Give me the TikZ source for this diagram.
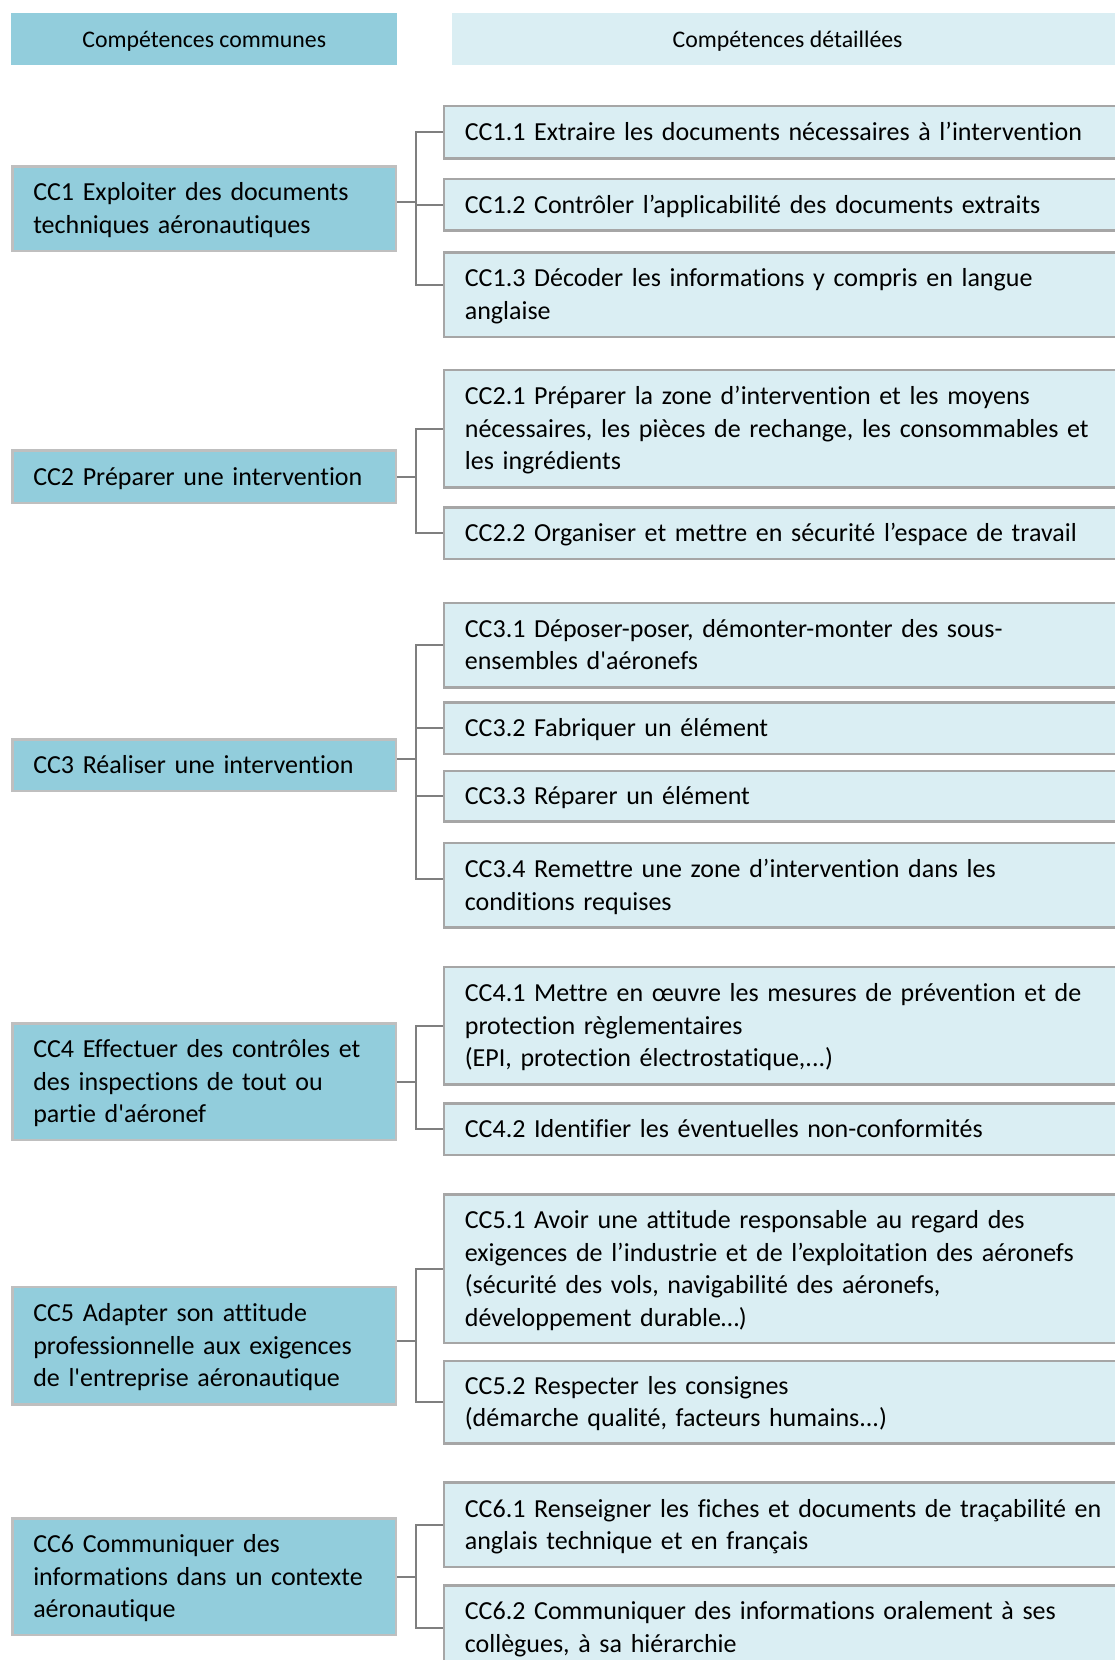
\documentclass[tikz,border=0pt]{standalone}
\usepackage{fontspec}
\setmainfont{Carlito}[Ligatures={TeX,NoCommon}]
\usepackage{xcolor}
\usetikzlibrary{positioning}

\definecolor{aquaDark}{HTML}{92CDDC}
\definecolor{aquaLight}{HTML}{DAEEF3}
\definecolor{edgeLight}{HTML}{BFBFBF}
\definecolor{edgeMid}{HTML}{A6A6A6}
\definecolor{linkGray}{HTML}{7F7F7F}
\newcommand{\cellfont}{\fontsize{26}{32.5}\selectfont}
\newcommand{\headfont}{\fontsize{23.8}{29}\selectfont}

\begin{document}
\begin{tikzpicture}[x=1pt, y=-1pt,
    head/.style={anchor=north west, inner sep=0pt, minimum height=51.6pt, text depth=0pt, font=\headfont},
    cell/.style={line width=2.5pt, anchor=north west, align=left, inner xsep=21pt, inner ysep=0pt,
        font=\cellfont, execute at begin node={\rule{0pt}{25pt}},
        execute at end node={\rule[-8pt]{0pt}{8pt}}},
    comp/.style={cell, draw=edgeLight, fill=aquaDark, text width=341.5pt},
    detail/.style={cell, draw=edgeMid, fill=aquaLight, text width=662pt},
    link/.style={draw=linkGray, line width=2pt}]
    \useasboundingbox (0,0) rectangle (1114,1660);

    % Column headers
    \node[head, fill=aquaDark, minimum width=386pt] (hdrL) at (11,13) {Compétences communes};
    \node[head, fill=aquaLight, minimum width=672pt, right=54pt of hdrL] (hdrR) {Compétences détaillées};

    % Common competences
    \node[comp, minimum height=84.5pt] (cc1) at (11,165) {CC1 Exploiter des documents\\techniques aéronautiques};
    \node[comp, minimum height=52.5pt] (cc2) at (11,449) {CC2 Préparer une intervention};
    \node[comp, minimum height=51.5pt] (cc3) at (11,738) {CC3 Réaliser une intervention};
    \node[comp, minimum height=116.5pt] (cc4) at (11,1022) {CC4 Effectuer des contrôles et\\des inspections de tout ou\\partie d\textquotesingle aéronef};
    \node[comp, minimum height=117.5pt] (cc5) at (11,1285.5) {CC5 Adapter son attitude\\professionnelle aux exigences\\de l\textquotesingle entreprise aéronautique};
    \node[comp, minimum height=116.5pt] (cc6) at (11,1517) {CC6 Communiquer des\\informations dans un contexte\\aéronautique};

    % Detailed competences
    \node[detail, minimum height=52.5pt] (cc11) at (442.6,104.8) {CC1.1 Extraire les documents nécessaires à l’intervention};
    \node[detail, minimum height=51.5pt] (cc12) at (442.6,177.9) {CC1.2 Contrôler l’applicabilité des documents extraits};
    \node[detail, minimum height=84.5pt] (cc13) at (442.6,251) {CC1.3 Décoder les informations y compris en langue\\anglaise};
    \node[detail, minimum height=117.5pt] (cc21) at (442.6,368.5) {CC2.1 Préparer la zone d’intervention et les moyens\\nécessaires, les pièces de rechange, les consommables et\\les ingrédients};
    \node[detail, minimum height=51.5pt] (cc22) at (442.6,506) {CC2.2 Organiser et mettre en sécurité l’espace de travail};
    \node[detail, minimum height=84.5pt] (cc31) at (442.6,601.5) {CC3.1 Déposer-poser, démonter-monter des sous-\\ensembles d\textquotesingle aéronefs};
    \node[detail, minimum height=51.5pt] (cc32) at (442.6,701) {CC3.2 Fabriquer un élément};
    \node[detail, minimum height=50.5pt] (cc33) at (442.6,769.8) {CC3.3 Réparer un élément};
    \node[detail, minimum height=84.5pt] (cc34) at (442.6,841.8) {CC3.4 Remettre une zone d’intervention dans les\\conditions requises};
    \node[detail, minimum height=117.5pt] (cc41) at (442.6,965.7) {CC4.1 Mettre en œuvre les mesures de prévention et de\\protection règlementaires\\(EPI, protection électrostatique,...)};
    \node[detail, minimum height=51.5pt] (cc42) at (442.6,1102.3) {CC4.2 Identifier les éventuelles non-conformités};
    \node[detail, minimum height=148.5pt] (cc51) at (442.6,1193.4) {CC5.1 Avoir une attitude responsable au regard des\\exigences de l’industrie et de l’exploitation des aéronefs\\(sécurité des vols, navigabilité des aéronefs,\\développement durable…)};
    \node[detail, minimum height=82.5pt] (cc52) at (442.6,1359.6) {CC5.2 Respecter les consignes\\(démarche qualité, facteurs humains...)};
    \node[detail, minimum height=84.5pt] (cc61) at (442.6,1481.4) {CC6.1 Renseigner les fiches et documents de traçabilité en\\anglais technique et en français};
    \node[detail, minimum height=84.5pt] (cc62) at (442.6,1584) {CC6.2 Communiquer des informations oralement à ses\\collègues, à sa hiérarchie};

    % Tree links
    \draw[link] ([yshift=7pt]cc1.east) -- ++(19,0) |- (cc11.west);
    \draw[link] ([yshift=7pt]cc1.east) -- ++(19,0) |- (cc12.west);
    \draw[link] ([yshift=7pt]cc1.east) -- ++(19,0) |- ([yshift=10pt]cc13.west);
    \draw[link] (cc2.east) -- ++(19,0) |- (cc21.west);
    \draw[link] (cc2.east) -- ++(19,0) |- (cc22.west);
    \draw[link] ([yshift=6pt]cc3.east) -- ++(19,0) |- (cc31.west);
    \draw[link] ([yshift=6pt]cc3.east) -- ++(19,0) |- (cc32.west);
    \draw[link] ([yshift=6pt]cc3.east) -- ++(19,0) |- (cc33.west);
    \draw[link] ([yshift=6pt]cc3.east) -- ++(19,0) |- ([yshift=6pt]cc34.west);
    \draw[link] (cc4.east) -- ++(19,0) |- (cc41.west);
    \draw[link] (cc4.east) -- ++(19,0) |- (cc42.west);
    \draw[link] ([yshift=5pt]cc5.east) -- ++(19,0) |- (cc51.west);
    \draw[link] ([yshift=5pt]cc5.east) -- ++(19,0) |- (cc52.west);
    \draw[link] (cc6.east) -- ++(19,0) |- (cc61.west);
    \draw[link] (cc6.east) -- ++(19,0) |- (cc62.west);
\end{tikzpicture}
\end{document}
